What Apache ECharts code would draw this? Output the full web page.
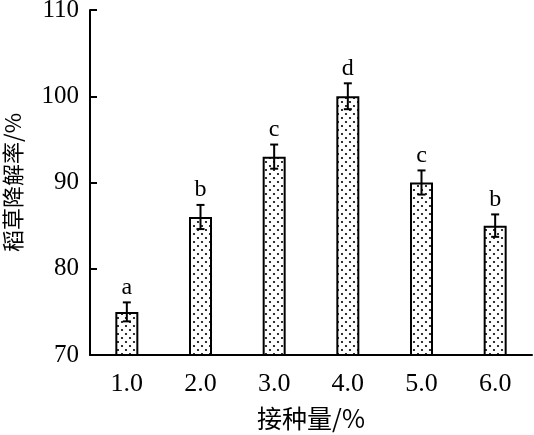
<!DOCTYPE html>
<html>
<head>
<meta charset="utf-8">
<script src="https://cdn.jsdelivr.net/npm/echarts@6/dist/echarts.min.js"></script>
<style>html,body{margin:0;padding:0;background:#fff;}#c{width:534px;height:435px;}</style>
</head>
<body>
<div id="c"></div>
<script>
const categories = ['1.0', '2.0', '3.0', '4.0', '5.0', '6.0'];
const values = [75, 86, 93, 100, 90, 85];
const errors = [1.1, 1.4, 1.4, 1.5, 1.4, 1.3];
const letters = ['a', 'b', 'c', 'd', 'c', 'b'];
const yMin = 70, yMax = 110, yStep = 10;
const xTitle = '接种量/%';
const yTitle = '稻草降解率/%';

// dotted fill pattern
const pc = document.createElement('canvas');
pc.width = 8; pc.height = 8;
const g = pc.getContext('2d');
g.fillStyle = '#fff'; g.fillRect(0, 0, 8, 8);
g.fillStyle = '#000';
g.beginPath(); g.arc(2, 2, 1.1, 0, Math.PI * 2); g.fill();
g.beginPath(); g.arc(6, 6, 1.1, 0, Math.PI * 2); g.fill();

const serif = '"Liberation Serif", "Times New Roman", serif';
const cjk = '"Noto Sans CJK SC", "Liberation Serif", serif';

const chart = echarts.init(document.getElementById('c'));
chart.setOption({
  animation: false,
  backgroundColor: '#fff',
  grid: { left: 90, right: 2, top: 10, bottom: 80, containLabel: false, outerBoundsMode: 'none' },
  xAxis: {
    type: 'category',
    data: categories,
    axisLine: { lineStyle: { color: '#000', width: 2 } },
    axisTick: { show: false },
    axisLabel: { color: '#000', fontFamily: serif, fontSize: 26, margin: 16 },
    name: xTitle,
    nameLocation: 'middle',
    nameGap: 51,
    nameMoveOverlap: false,
    nameTextStyle: { color: '#000', fontFamily: cjk, fontSize: 25 }
  },
  yAxis: {
    type: 'value',
    min: yMin, max: yMax, interval: yStep,
    axisLine: { show: true, lineStyle: { color: '#000', width: 2 } },
    axisTick: { show: true, inside: true, length: 7, lineStyle: { color: '#000', width: 2 } },
    splitLine: { show: false },
    axisLabel: { color: '#000', fontFamily: serif, fontSize: 25, margin: 11 },
    name: yTitle,
    nameLocation: 'middle',
    nameGap: 66,
    nameRotate: 90,
    nameMoveOverlap: false,
    nameTextStyle: { color: '#000', fontFamily: cjk, fontSize: 22 }
  },
  series: [
    {
      type: 'bar',
      data: values,
      barWidth: 23,
      itemStyle: {
        color: { image: pc, repeat: 'repeat' },
        borderColor: '#000',
        borderWidth: 2
      }
    },
    {
      type: 'custom',
      data: categories.map((c, i) => [i, values[i], errors[i]]),
      z: 10,
      renderItem: function (params, api) {
        const i = api.value(0), v = api.value(1), e = api.value(2);
        const top = api.coord([i, v + e]);
        const bot = api.coord([i, v - e]);
        const hw = 4;
        const st = { stroke: '#000', lineWidth: 2 };
        return {
          type: 'group',
          children: [
            { type: 'line', shape: { x1: top[0], y1: top[1], x2: bot[0], y2: bot[1] }, style: st },
            { type: 'line', shape: { x1: top[0] - hw, y1: top[1], x2: top[0] + hw, y2: top[1] }, style: st },
            { type: 'line', shape: { x1: bot[0] - hw, y1: bot[1], x2: bot[0] + hw, y2: bot[1] }, style: st },
            { type: 'text', style: { text: letters[params.dataIndex], x: top[0], y: top[1] - 15,
                align: 'center', verticalAlign: 'middle', fill: '#000', font: '24px ' + serif } }
          ]
        };
      }
    }
  ]
});
</script>
</body>
</html>
